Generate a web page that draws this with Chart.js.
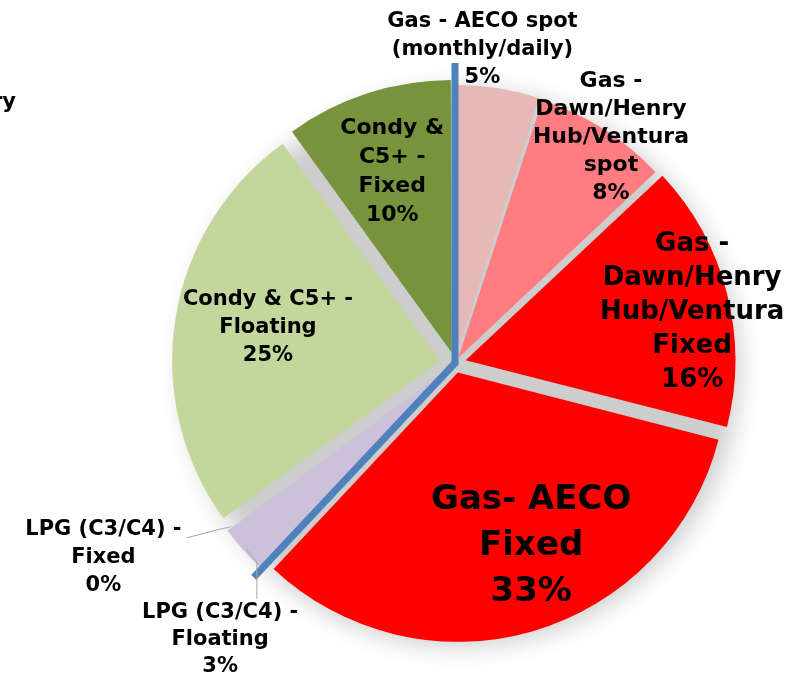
<!DOCTYPE html>
<html>
<head>
<meta charset="utf-8">
<script src="https://cdn.jsdelivr.net/npm/chart.js@4.4.1/dist/chart.umd.min.js"></script>
<style>
  html, body { margin: 0; padding: 0; background: #fff; }
  #wrap { width: 796px; height: 677px; }
</style>
</head>
<body>
<div id="wrap"><canvas id="mix"></canvas></div>
<script>
// hedge book split, clockwise from 12 o'clock
const categories = [
  'Gas - AECO spot (monthly/daily)',
  'Gas - Dawn/Henry Hub/Ventura spot',
  'Gas - Dawn/Henry Hub/Ventura Fixed',
  'Gas- AECO Fixed',
  'LPG (C3/C4) - Floating',
  'LPG (C3/C4) - Fixed',
  'Condy & C5+ - Floating',
  'Condy & C5+ - Fixed'
];
const shares = [5, 8, 16, 33, 3, 0, 25, 10];
const labelLines = [
  ['Gas - AECO spot', '(monthly/daily)'],
  ['Gas -', 'Dawn/Henry', 'Hub/Ventura', 'spot'],
  ['Gas -', 'Dawn/Henry', 'Hub/Ventura', 'Fixed'],
  ['Gas- AECO', 'Fixed'],
  ['LPG (C3/C4) -', 'Floating'],
  ['LPG (C3/C4) -', 'Fixed'],
  ['Condy & C5+ -', 'Floating'],
  ['Condy &', 'C5+ -', 'Fixed']
];
const sliceColors = ['#e6b9b8', '#ff7c80', '#ff0000', '#ff0000', '#ccc1da', '#ccc1da', '#c3d69b', '#77933c'];
// explode distance (chart.js moves a slice by offset / 4)
const sliceOffsets = [24, 24, 44, 40, 32, 0, 60, 44];

// label placement: distance as a share of the radius, turn in degrees from the slice middle
const labelRadius = [1.175, 1.025, 0.905, 0.74, 1.355, 1.50, 0.71, 0.75];
const labelTurn = [-4, 2.2, 2.3, -6.4, -8.3, 7.0, 1.6, -0.2];
const labelSize = [21, 22, 26, 34, 21, 21, 21, 22];
const labelLead = [28, 28, 34, 46, 27, 28, 28, 29];

const FONT = '"DejaVu Sans", Verdana, sans-serif';
const PIE_R = 268;

function polar(cx, cy, ang, r) {
  // ang in canvas radians (0 = 3 o'clock)
  return { x: cx + Math.cos(ang) * r, y: cy + Math.sin(ang) * r };
}

const shadowDisc = {
  id: 'shadowDisc',
  beforeDatasetsDraw(chart) {
    const arc = chart.getDatasetMeta(0).data[0];
    const ctx = chart.ctx;
    ctx.save();
    ctx.filter = 'blur(12px)';
    ctx.fillStyle = '#cdcdcd';
    ctx.beginPath();
    ctx.arc(arc.x + 6, arc.y + 5, arc.outerRadius + 10, 0, Math.PI * 2);
    ctx.fill();
    ctx.restore();
  }
};

const dividers = {
  id: 'dividers',
  afterDatasetsDraw(chart) {
    const arcs = chart.getDatasetMeta(0).data;
    const ctx = chart.ctx;
    const cx = arcs[0].x, cy = arcs[0].y, r = arcs[0].outerRadius;
    // gas / liquids split lines
    const p1 = polar(cx, cy, arcs[0].startAngle, r + 32);
    const p2 = polar(cx, cy, arcs[3].endAngle, r + 26);
    ctx.save();
    ctx.strokeStyle = '#4f81bd';
    ctx.lineWidth = 7;
    ctx.lineCap = 'butt';
    ctx.beginPath();
    ctx.moveTo(p1.x, p1.y);
    ctx.lineTo(cx, cy);
    ctx.lineTo(p2.x, p2.y);
    ctx.stroke();
    ctx.restore();
  }
};

const sliceLabels = {
  id: 'sliceLabels',
  afterDraw(chart) {
    const arcs = chart.getDatasetMeta(0).data;
    const ctx = chart.ctx;
    const cx = arcs[0].x, cy = arcs[0].y, r = arcs[0].outerRadius;
    ctx.save();
    ctx.fillStyle = '#000';
    ctx.textAlign = 'center';
    ctx.textBaseline = 'middle';
    arcs.forEach((arc, i) => {
      const mid = (arc.startAngle + arc.endAngle) / 2 + labelTurn[i] * Math.PI / 180;
      const p = polar(cx, cy, mid, r * labelRadius[i]);
      const lines = labelLines[i].concat([shares[i] + '%']);
      const lead = labelLead[i];
      ctx.font = 'bold ' + labelSize[i] + 'px ' + FONT;
      const top = p.y - (lines.length - 1) * lead / 2;
      lines.forEach((t, j) => ctx.fillText(t, p.x, top + j * lead));

      // leader lines for the thin LPG slices
      ctx.strokeStyle = '#a6a6a6';
      ctx.lineWidth = 1;
      if (i === 5) {
        const w = ctx.measureText(lines[0]).width;
        const edge = polar(cx, cy, arc.startAngle, r + 4);
        ctx.beginPath();
        ctx.moveTo(p.x + w / 2 + 5, top + 8);
        ctx.lineTo(edge.x - 14, edge.y + 6);
        ctx.lineTo(edge.x - 4, edge.y + 4);
        ctx.stroke();
      }
      if (i === 4) {
        const edge = polar(cx, cy, arc.startAngle + 0.06, r + 10);
        ctx.beginPath();
        ctx.moveTo(edge.x + 4, top - 14);
        ctx.lineTo(edge.x + 4, edge.y + 8);
        ctx.lineTo(edge.x - 6, edge.y - 4);
        ctx.stroke();
      }
    });
    // clipped label from the neighbouring chart
    ctx.font = 'bold 21px ' + FONT;
    ctx.textAlign = 'right';
    ctx.fillText('Dawn/Henry', 16, 103);
    ctx.restore();
  }
};

new Chart(document.getElementById('mix'), {
  type: 'pie',
  data: {
    labels: categories,
    datasets: [{
      data: shares,
      backgroundColor: sliceColors,
      borderWidth: 0,
      offset: sliceOffsets
    }]
  },
  options: {
    responsive: true,
    maintainAspectRatio: false,
    animation: false,
    radius: PIE_R,
    layout: { padding: { left: 114, right: 0, top: 49, bottom: 0 } },
    plugins: {
      legend: { display: false },
      tooltip: { enabled: false }
    }
  },
  plugins: [shadowDisc, dividers, sliceLabels]
});
</script>
</body>
</html>
